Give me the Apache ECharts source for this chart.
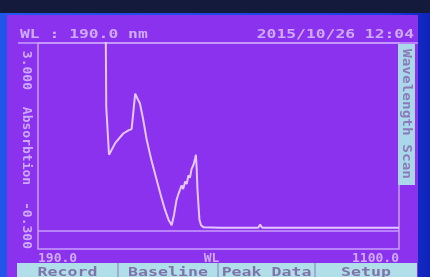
<!DOCTYPE html>
<html>
<head>
<meta charset="utf-8">
<script src="https://cdn.jsdelivr.net/npm/echarts@6/dist/echarts.min.js"></script>
<style>
html, body { margin: 0; padding: 0; background: #1c3ee4; }
#chart { width: 430px; height: 277px; }
</style>
</head>
<body>
<div id="chart"></div>
<script>
// scan (nm, Abs); values above 3 are off scale
const wavelength = [190, 360, 362, 369, 385, 405, 418, 426, 429, 432, 435, 440, 447, 455, 464, 476, 489, 500, 510, 519, 527,
  533, 539, 545, 552, 556, 561, 565, 569, 573, 577, 582, 586, 588, 590, 592, 595, 597, 601, 607,
  650, 700, 745, 750, 755, 800, 900, 1000, 1100];
const absorbance = [4.0, 4.0, 1.98, 1.21, 1.40, 1.55, 1.60, 1.62, 1.65, 2.0, 2.19, 2.12, 2.03, 1.78, 1.45, 1.12, 0.81, 0.55, 0.33, 0.17, 0.08,
  0.25, 0.48, 0.60, 0.72, 0.66, 0.78, 0.74, 0.88, 0.84, 0.98, 1.05, 1.15, 1.21, 1.0, 0.65, 0.35, 0.17, 0.08, 0.05,
  0.04, 0.04, 0.04, 0.09, 0.04, 0.04, 0.04, 0.04, 0.04];

const xTicks = [190, 1100];
const xTickLabels = ['190.0', '1100.0'];
const yTicks = [-0.3, 3.0];
const yTickLabels = ['-0.300', '\u00a03.000'];

const headerLeft = 'WL : 190.0 nm';
const headerRight = '2015/10/26 12:04';
const modeName = 'Wavelength Scan';
const buttons = ['Record', 'Baseline', 'Peak Data', 'Setup'];
const buttonCells = [[17, 118], [118, 218], [218, 315], [315, 417]];

const bg = '#8b32ee';
const lineCol = '#e4c8ff';
const frameCol = '#c99eff';
const textCol = '#cfaaff';
const mono = '"DejaVu Sans Mono", monospace';

const chart = echarts.init(document.getElementById('chart'));

const graphics = [
  { type: 'rect', z: -10, shape: { x: 0, y: 0, width: 430, height: 277 },
    style: { fill: new echarts.graphic.LinearGradient(0, 0, 1, 0, [
      { offset: 0, color: '#2256ea' }, { offset: 0.9, color: '#1b3fe2' }, { offset: 1, color: '#0e22b8' }]) } },
  { type: 'rect', z: -9, shape: { x: 0, y: 0, width: 430, height: 13 }, style: { fill: '#131a3c' } },
  { type: 'rect', z: -8, shape: { x: 7, y: 15, width: 411, height: 262 }, style: { fill: bg } },
  { type: 'line', shape: { x1: 18, y1: 43, x2: 418, y2: 43 }, style: { stroke: frameCol, lineWidth: 1.5 } },
  { type: 'text', x: 20, y: 29, scaleX: 1.36,
    style: { text: headerLeft, fill: textCol, font: 'bold 12px ' + mono, textAlign: 'left', textVerticalAlign: 'top' } },
  { type: 'text', x: 414, y: 29, scaleX: 1.36,
    style: { text: headerRight, fill: textCol, font: 'bold 12px ' + mono, textAlign: 'right', textVerticalAlign: 'top' } },
  { type: 'rect', shape: { x: 398, y: 44, width: 17, height: 141 }, style: { fill: '#aad8ea' } },
  { type: 'text', x: 406.5, y: 114, rotation: -Math.PI / 2, scaleX: 1.2,
    style: { text: modeName, fill: '#8a7ab8', font: 'bold 12px ' + mono, textAlign: 'center', textVerticalAlign: 'middle' } },
  { type: 'rect', shape: { x: 17, y: 263, width: 400, height: 14 }, style: { fill: '#b0dfe9' } }
];
buttonCells.forEach(function (c, i) {
  if (i > 0) {
    graphics.push({ type: 'line', shape: { x1: c[0], y1: 263, x2: c[0], y2: 277 }, style: { stroke: '#8a7ab8', lineWidth: 1 } });
  }
  graphics.push({ type: 'text', x: (c[0] + c[1]) / 2, y: 267, scaleX: 1.38,
    style: { text: buttons[i], fill: '#7f74aa', font: 'bold 12px ' + mono, textAlign: 'center', textVerticalAlign: 'top' } });
});

chart.setOption({
  animation: false,
  backgroundColor: 'transparent',
  grid: {
    left: 38, top: 43, right: 31, bottom: 28, containLabel: false, outerBoundsMode: 'none',
    show: true, borderColor: frameCol, borderWidth: 1.5, backgroundColor: 'transparent'
  },
  graphic: graphics,
  xAxis: {
    type: 'value', min: 190, max: 1100, interval: 910,
    name: 'WL', nameLocation: 'middle', nameGap: 3, nameMoveOverlap: false,
    nameTextStyle: { color: textCol, fontFamily: mono, fontWeight: 'bold', fontSize: 13, verticalAlign: 'top', padding: [0, 14, 0, 0] },
    axisLine: { show: false }, axisTick: { show: false }, splitLine: { show: false },
    axisLabel: {
      margin: 3, color: textCol, fontFamily: mono, fontWeight: 'bold', fontSize: 13,
      alignMinLabel: 'left', alignMaxLabel: 'right',
      formatter: function (v) { const i = xTicks.indexOf(v); return i >= 0 ? xTickLabels[i] : ''; }
    }
  },
  yAxis: {
    type: 'value', min: -0.3, max: 3.0, interval: 3.3,
    name: 'Absorbtion', nameLocation: 'middle', nameRotate: -90, nameGap: 12, nameMoveOverlap: false,
    nameTextStyle: { color: textCol, fontFamily: mono, fontWeight: 'bold', fontSize: 13, verticalAlign: 'middle' },
    axisLine: { show: false }, axisTick: { show: false }, splitLine: { show: false },
    axisLabel: {
      margin: 12, rotate: -90, color: textCol, fontFamily: mono, fontWeight: 'bold', fontSize: 13,
      verticalAlign: 'middle', alignMinLabel: 'right', alignMaxLabel: 'left',
      formatter: function (v) {
        const i = yTicks.findIndex(function (t) { return Math.abs(t - v) < 1e-9; });
        return i >= 0 ? yTickLabels[i] : '';
      }
    }
  },
  series: [{
    type: 'line',
    data: wavelength.map(function (w, i) { return [w, absorbance[i]]; }),
    showSymbol: false, clip: true,
    lineStyle: { color: lineCol, width: 2 },
    markLine: {
      silent: true, symbol: 'none', label: { show: false },
      lineStyle: { color: frameCol, width: 1.5, type: 'solid' },
      data: [{ yAxis: 0 }]
    }
  }]
});
</script>
</body>
</html>
